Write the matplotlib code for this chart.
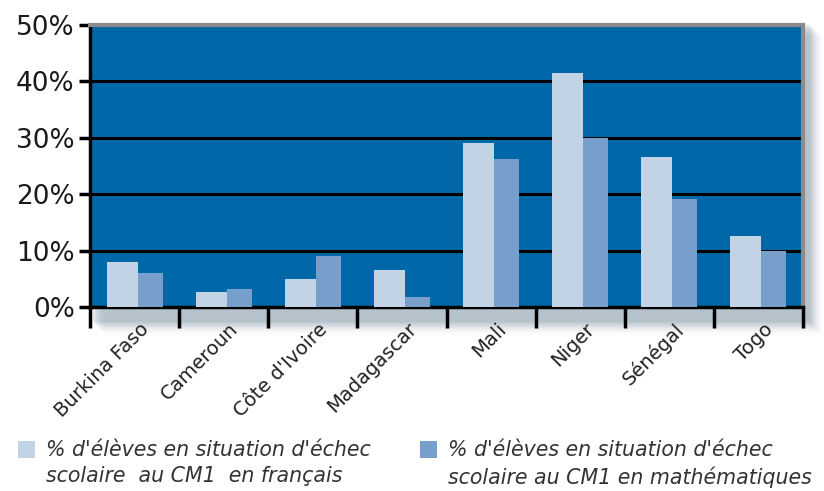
import matplotlib
matplotlib.use("Agg")
import matplotlib.pyplot as plt
import matplotlib.transforms as mtransforms
from matplotlib.patches import Rectangle
import numpy as np

# ---------------------------------------------------------------- data
countries = ["Burkina Faso", "Cameroun", "Côte d'Ivoire", "Madagascar",
             "Mali", "Niger", "Sénégal", "Togo"]
echec_francais = [7.9, 2.6, 4.9, 6.6, 29.0, 41.5, 26.6, 12.6]
echec_maths = [6.0, 3.2, 9.0, 1.8, 26.2, 30.0, 19.2, 10.0]
yticks = [0, 10, 20, 30, 40, 50]
legend_labels = ["% d'élèves en situation d'échec\nscolaire  au CM1  en français",
                 "% d'élèves en situation d'échec\nscolaire au CM1 en mathématiques"]

# ---------------------------------------------------------------- style
BG = "#0068a8"
LIGHT = "#c2d3e5"
DARK = "#779fcb"
W, H = 824, 491

fig = plt.figure(figsize=(W / 100, H / 100), dpi=100)
ax = fig.add_axes([90 / W, 1 - 307 / H, (803 - 90) / W, (307 - 25) / H])
ax.set_facecolor(BG)

# soft drop shadow below and right of the plot frame
for i in range(14):
    a = 0.05 * (1 - i / 14)
    fig.patches.append(Rectangle(((92 + i) / W, 1 - (322 + i) / H),
                                 718 / W, 298 / H,
                                 transform=fig.transFigure, color="#2f5070",
                                 alpha=a, lw=0, zorder=-5))

x = np.arange(len(countries))
ax.bar(x - 0.14, echec_francais, 0.348, color=LIGHT, zorder=3)
ax.bar(x + 0.174, echec_maths, 0.28, color=DARK, zorder=3)

ax.set_xlim(-0.5, len(countries) - 0.5)
ax.set_ylim(0, 50)

# y axis
ax.set_yticks(yticks)
ax.set_yticklabels([f"{v}%" for v in yticks], fontsize=19, color="#1a1a1a")
ax.tick_params(axis="y", direction="out", length=8, width=2.5, pad=3)
for v in yticks[1:-1]:
    ax.axhline(v, color="black", lw=2.2, zorder=1)

# x axis: boundaries as minor ticks, labels on majors
ax.set_xticks(x)
ax.set_xticklabels(countries, rotation=45, ha="right", va="top",
                   rotation_mode="anchor", fontsize=14, color="#222222")
ax.set_xticks(np.arange(-0.5, len(countries)), minor=True)
ax.tick_params(axis="x", which="major", length=0, pad=9)
ax.tick_params(axis="x", which="minor", direction="out", length=15, width=2.5)
offset = mtransforms.ScaledTranslation(5 / 100, 0, fig.dpi_scale_trans)
for lbl in ax.get_xticklabels():
    lbl.set_transform(lbl.get_transform() + offset)

# frame
for side in ("left", "bottom"):
    ax.spines[side].set_color("black")
    ax.spines[side].set_linewidth(2.5)
for side in ("top", "right"):
    ax.spines[side].set_color("#8c8c8c")
    ax.spines[side].set_linewidth(3)

# legend, drawn by hand so the swatch sits on the first text line
for i, (col, txt) in enumerate(zip([LIGHT, DARK], legend_labels)):
    x0 = 18 if i == 0 else 420
    fig.patches.append(Rectangle((x0 / W, 1 - 458 / H), 17 / W, 17 / H,
                                 transform=fig.transFigure, color=col, lw=0))
    fig.text((x0 + 28) / W, 1 - 440 / H, txt, ha="left", va="top",
             fontsize=14.8, style="italic", color="#333333",
             linespacing=1.4)

fig.savefig("out.png", dpi=100)
